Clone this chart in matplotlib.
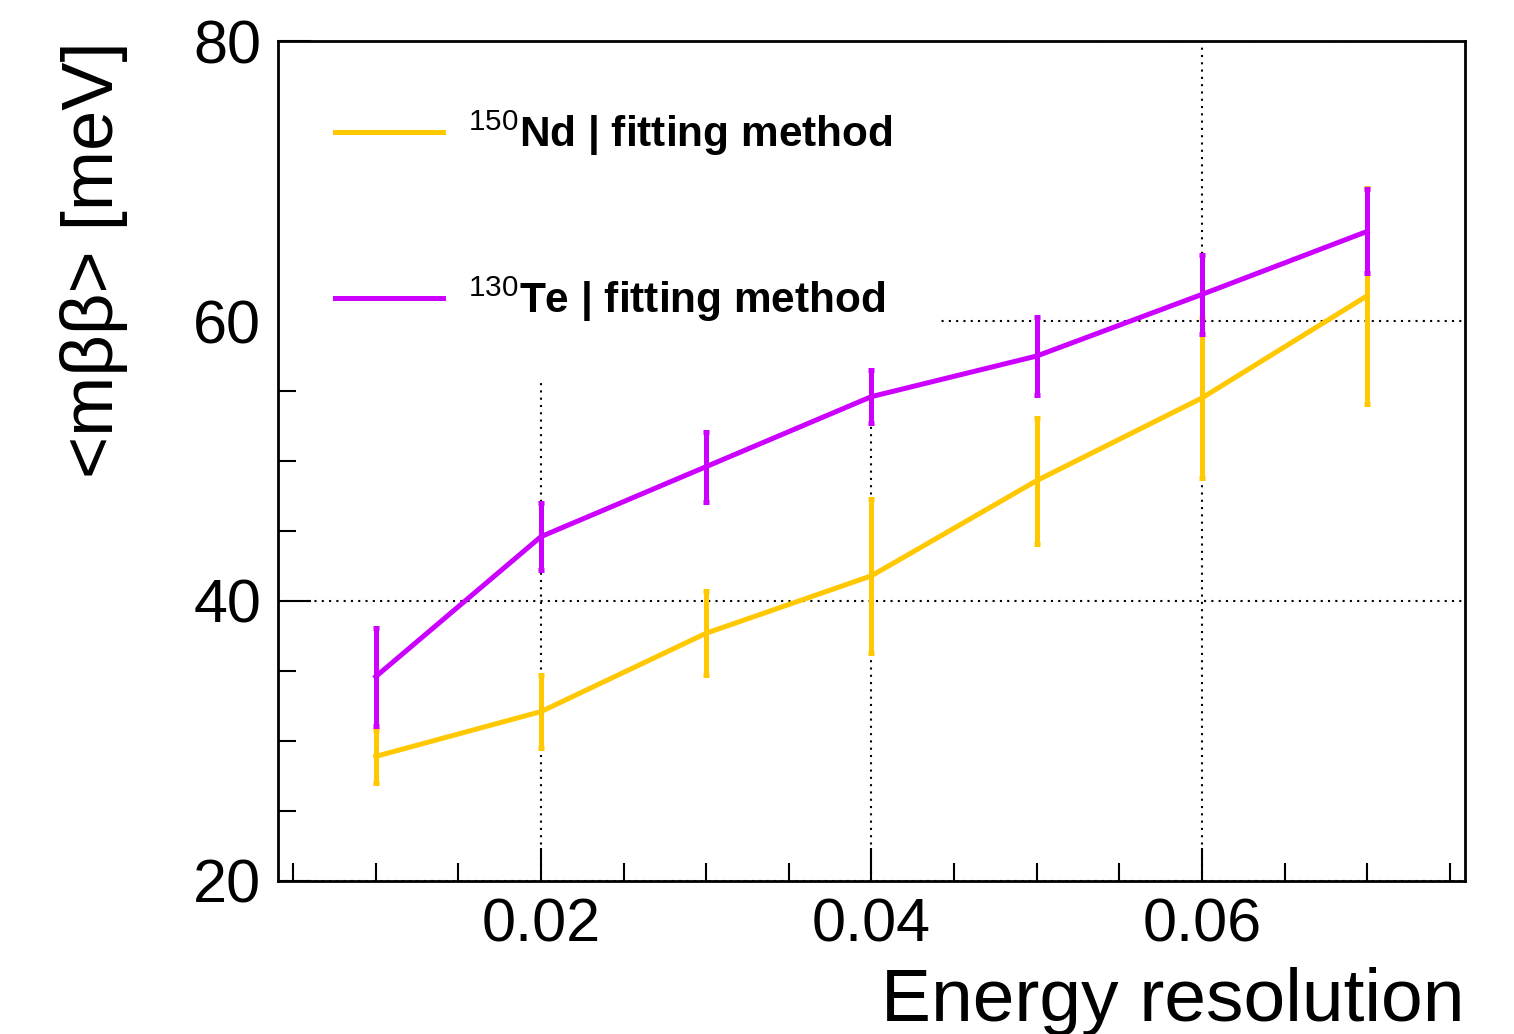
import matplotlib.pyplot as plt
from matplotlib.lines import Line2D
from matplotlib.patches import Rectangle
from matplotlib.ticker import MultipleLocator

plt.rcParams["font.family"] = ["Liberation Sans", "DejaVu Sans"]
plt.rcParams["mathtext.fontset"] = "custom"
plt.rcParams["mathtext.rm"] = "Liberation Sans"

# energy resolution values
resolution = [0.01, 0.02, 0.03, 0.04, 0.05, 0.06, 0.07]

# 150Nd, fitting method
nd_mbb = [28.9, 32.1, 37.7, 41.8, 48.6, 54.5, 61.8]
nd_err = [1.9, 2.6, 3.0, 5.5, 4.5, 5.7, 7.7]

# 130Te, fitting method
te_mbb = [34.6, 44.6, 49.6, 54.6, 57.5, 61.9, 66.4]
te_err = [3.5, 2.4, 2.5, 1.9, 2.8, 2.8, 3.0]

labels = [r"$^{150}$Nd | fitting method", r"$^{130}$Te | fitting method"]

yellow = "#ffc800"
magenta = "#cc00ff"

fig = plt.figure(figsize=(15.14, 10.34), dpi=100)
ax = fig.add_axes([0.1836, 0.1480, 0.9676 - 0.1836, 0.9603 - 0.1480])

ax.errorbar(resolution, nd_mbb, yerr=nd_err, color=yellow, lw=3.6,
            elinewidth=3.6, capsize=2, capthick=3.6, zorder=3)
ax.errorbar(resolution, te_mbb, yerr=te_err, color=magenta, lw=3.6,
            elinewidth=3.6, capsize=2, capthick=3.6, zorder=4)

ax.set_xlim(0.00408, 0.07592)
ax.set_ylim(20, 80)

ax.xaxis.set_major_locator(MultipleLocator(0.02))
ax.xaxis.set_minor_locator(MultipleLocator(0.005))
ax.yaxis.set_major_locator(MultipleLocator(20))
ax.yaxis.set_minor_locator(MultipleLocator(5))
ax.xaxis.set_major_formatter(lambda v, p: f"{v:.2f}")

ax.tick_params(which="both", direction="in", top=False, right=False,
               labelsize=44, width=1.5, pad=12)
ax.tick_params(which="major", length=24)
ax.tick_params(which="minor", length=13)
for s in ax.spines.values():
    s.set_linewidth(2)

ax.set_axisbelow(True)
ax.grid(True, which="major", color="black", linestyle=(0, (1, 2.5)), lw=1.5)

# white legend pad hides the grid behind it
ax.add_patch(Rectangle((0, 0.596), 0.555, 0.404, transform=ax.transAxes,
                       facecolor="white", edgecolor="none", zorder=1))

handles = [Line2D([], [], color=yellow, lw=3.6),
           Line2D([], [], color=magenta, lw=3.6)]
ax.legend(handles, labels, loc="upper left", bbox_to_anchor=(0.048, 0.92),
          frameon=False, borderpad=0, borderaxespad=0, handlelength=2.55,
          handletextpad=0.6, labelspacing=2.75,
          prop={"size": 30.5, "weight": "bold"})

ax.set_xlabel("Energy resolution", fontsize=54, loc="right", labelpad=9)
ax.set_ylabel("<mββ> [meV]", fontsize=52, loc="top", labelpad=47)

fig.savefig("out.png", dpi=100)
